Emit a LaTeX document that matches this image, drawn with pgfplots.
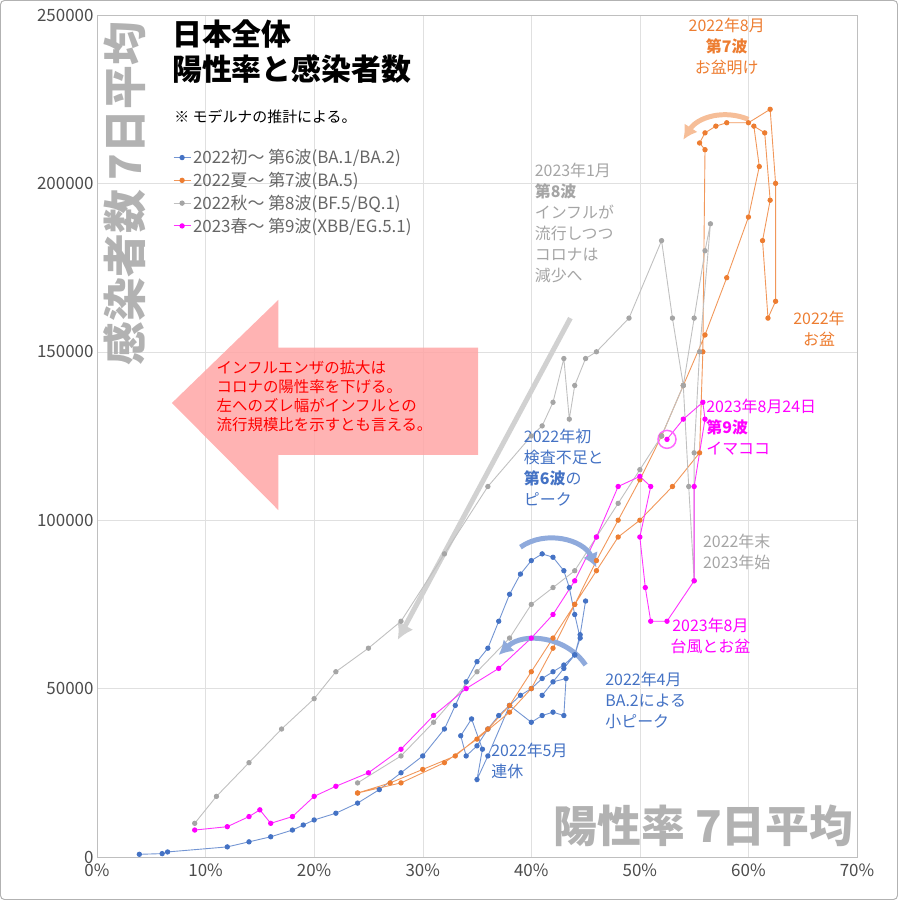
\documentclass[border=0pt]{standalone}
\usepackage{pgfplots}
\pgfplotsset{compat=1.18}
\usetikzlibrary{arrows.meta}
\usepackage{fontspec}
\setmainfont{Noto Sans CJK JP}
\definecolor{cB}{RGB}{68,114,196}
\definecolor{cO}{RGB}{237,125,49}
\definecolor{cG}{RGB}{165,165,165}
\definecolor{cM}{RGB}{255,0,255}
\begin{document}
\begin{tikzpicture}[x=1bp,y=1bp]
\useasboundingbox (-97,-43) rectangle (801,857);
\begin{axis}[at={(0,0)},anchor=south west,scale only axis,width=760bp,height=842bp,
 xmin=0,xmax=70,ymin=0,ymax=250000,
 xtick={0,10,...,70},xticklabel={\pgfmathprintnumber{\tick}\%},
 ytick={0,50000,...,250000},
 scaled y ticks=false,
 yticklabel style={/pgf/number format/fixed,/pgf/number format/1000 sep={}},
 xticklabel style={yshift=-3pt},
 /pgf/number format/assume math mode=true,
 tick label style={font=\fontsize{17}{17}\selectfont,text=black!70},
 grid=major,grid style={black!12},axis line style={black!25},
 major tick length=0pt,
 legend style={at={(0.096,0.845)},anchor=north west,draw=none,fill=none,font=\fontsize{17}{19}\selectfont,text=black!60,row sep=3pt},
 legend cell align=left,
 every axis plot/.append style={line width=0.9pt,mark=*,mark size=2.2pt},
 clip=false]
% pink arrow
\fill[red!35,opacity=0.85] (axis cs:6.9,134800)--(axis cs:16.7,165400)--(axis cs:16.7,151200)--(axis cs:35.1,151200)--(axis cs:35.1,119400)--(axis cs:16.7,119400)--(axis cs:16.7,103000)--cycle;
\node[align=left,text=red,font=\fontsize{15.5}{19}\selectfont,anchor=north west] at (axis cs:10.7,148500) {インフルエンザの拡大は\\コロナの陽性率を下げる。\\左へのズレ幅がインフルとの\\流行規模比を示すとも言える。};
% gray big arrow
\draw[black!18,line width=5pt,-{Latex[length=16pt,width=18pt]}] (axis cs:43.6,160000)--(axis cs:27.7,64500);
\addplot[cB!75,mark options={fill=cB,draw=cB}] coordinates {(3.9,800)(6,1000)(6.5,1500)(12,3000)(14,4500)(16,6000)(18,8000)(19,9500)(20,11000)(22,13000)(24,16000)(26,20000)(28,25000)(30,30000)(32,38000)(33,45000)(34,52000)(35,58000)(36,62000)(37,70000)(38,78000)(39,84000)(40,88000)(41,90000)(42,89000)(43,85000)(43.5,80000)(44,72000)(44.5,65000)(44,60000)(43,57000)(42,55000)(41,53000)(40,50000)(39,48000)(38,45000)(37,42000)(36,38000)(35,33000)(34,30000)(33.5,36000)(34.5,41000)(35.5,32000)(35,23000)(36,30000)(38,45000)(40,40000)(41,42000)(42,43000)(43,42000)(43.2,53000)(42,52000)(41,48000)(43,56000)(44,60000)(44.5,66000)(45,76000)};
\addlegendentry{2022初～ 第6波(BA.1/BA.2)}
\addplot[cO!80,mark options={fill=cO,draw=cO}] coordinates {(24,19000)(27,22000)(30,26000)(33,30000)(36,38000)(38,45000)(40,55000)(42,65000)(44,75000)(46,88000)(48,100000)(50,112000)(52,125000)(54,140000)(56,155000)(58,172000)(60,190000)(61,205000)(60.5,217000)(61.5,215000)(62,195000)(61.3,183000)(61.8,160000)(62.5,165000)(62.5,200000)(62,222000)(60,218000)(58,218000)(57,217000)(56,215000)(55.5,212000)(56,210000)(55.8,150000)(55.5,120000)(53,110000)(50,100000)(48,95000)(46,85000)(44,75000)(42,62000)(40,50000)(38,43000)(35,35000)(32,28000)(28,22000)(24,19000)};
\addlegendentry{2022夏～ 第7波(BA.5)}
\addplot[cG!70,mark options={fill=cG,draw=cG}] coordinates {(24,22000)(28,30000)(31,40000)(35,55000)(38,65000)(40,75000)(42,80000)(44,85000)(46,95000)(48,105000)(50,115000)(52,125000)(54,140000)(55,160000)(56,180000)(56.5,188000)(55.5,150000)(55,120000)(55,82000)(54.5,110000)(54,140000)(53,160000)(52,183000)(49,160000)(46,150000)(45,148000)(44,140000)(43.5,130000)(43,148000)(42,135000)(41,128000)(40,125000)(36,110000)(32,90000)(28,70000)(25,62000)(22,55000)(20,47000)(17,38000)(14,28000)(11,18000)(9,10000)};
\addlegendentry{2022秋～ 第8波(BF.5/BQ.1)}
\addplot[cM!80,mark options={fill=cM,draw=cM}] coordinates {(9,8000)(12,9000)(14,12000)(15,14000)(16,10000)(18,12000)(20,18000)(22,21000)(25,25000)(28,32000)(31,42000)(34,50000)(37,56000)(40,65000)(42,72000)(44,82000)(46,95000)(48,110000)(50,113000)(51,110000)(50,95000)(50.5,80000)(51,70000)(52.5,70000)(55,82000)(55,110000)(56,130000)(55.8,135000)(54,130000)(52.5,124000)};
\addlegendentry{2023春～ 第9波(XBB/EG.5.1)}
\draw[cM!60,line width=1.5pt] (axis cs:52.5,124000) circle (9bp);
% curved arrows
\draw[cO!50,line width=5pt,-{Latex[length=14pt,width=16pt]}] (axis cs:60,219000) to[bend right=40] (axis cs:54,213000);
\draw[cB!60,line width=5pt,-{Latex[length=14pt,width=16pt]}] (axis cs:39,92000) to[bend left=50] (axis cs:46,86000);
\draw[cB!60,line width=5pt,-{Latex[length=14pt,width=16pt]}] (axis cs:45,57000) to[bend right=50] (axis cs:37,60000);
% titles
\node[anchor=north west,align=left,font=\fontsize{30}{35}\selectfont\bfseries] at (axis cs:6.6,249500) {日本全体\\陽性率と感染者数};
\node[anchor=north west,font=\fontsize{15}{17}\selectfont] at (axis cs:6.8,223000) {※ モデルナの推計による。};
\node[rotate=90,anchor=north east,text=black!30,font=\fontsize{44}{44}\selectfont\bfseries] at (axis cs:0.3,249000) {感染者数 7日平均};
\node[anchor=south east,text=black!30,font=\fontsize{44}{44}\selectfont\bfseries] at (axis cs:70,2000) {陽性率 7日平均};
% annotations
\node[anchor=north,align=center,text=cO,font=\fontsize{16}{21}\selectfont] at (axis cs:58,250000) {2022年8月\\\textbf{第7波}\\お盆明け};
\node[anchor=north,align=center,text=cO,font=\fontsize{16}{21}\selectfont] at (axis cs:66.5,163000) {2022年\\お盆};
\node[anchor=north west,align=left,text=cG,font=\fontsize{16}{21}\selectfont] at (axis cs:40,207000) {2023年1月\\\textbf{第8波}\\インフルが\\流行しつつ\\コロナは\\減少へ};
\node[anchor=north west,align=left,text=cG,font=\fontsize{16}{21}\selectfont] at (axis cs:55.5,97000) {2022年末\\2023年始};
\node[anchor=north west,align=left,text=cM,font=\fontsize{16}{21}\selectfont] at (axis cs:55.8,137000) {2023年8月24日\\\textbf{第9波}\\イマココ};
\node[anchor=north,align=center,text=cM,font=\fontsize{16}{21}\selectfont] at (axis cs:56.5,72000) {2023年8月\\台風とお盆};
\node[anchor=north west,align=left,text=cB,font=\fontsize{16}{21}\selectfont] at (axis cs:39,128000) {2022年初\\検査不足と\\\textbf{第6波}の\\ピーク};
\node[anchor=north west,align=left,text=cB,font=\fontsize{16}{21}\selectfont] at (axis cs:46.5,56000) {2022年4月\\BA.2による\\小ピーク};
\node[anchor=north west,align=left,text=cB,font=\fontsize{16}{21}\selectfont] at (axis cs:36,35000) {2022年5月\\連休};
\end{axis}
\draw[black!30,rounded corners=4pt,line width=1pt] (-96.5,-42.5) rectangle (800.5,856.5);
\end{tikzpicture}
\end{document}
